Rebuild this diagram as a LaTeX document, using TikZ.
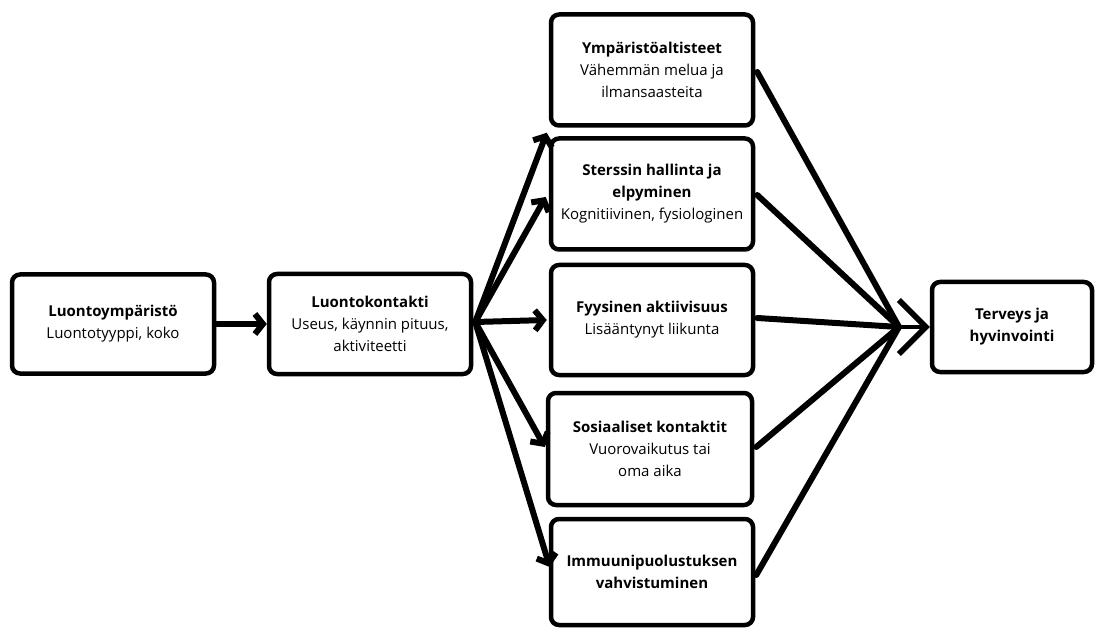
\documentclass[tikz,border=0pt]{standalone}
\usepackage{fontspec}
\setmainfont{Open Sans}
\usetikzlibrary{arrows.meta,calc}
\begin{document}
\begin{tikzpicture}[x=1pt,y=-1pt,
  box/.style={draw=black, line width=4.5pt, rounded corners=8pt, fill=white,
    align=center, inner sep=2pt, font=\fontsize{15}{22}\selectfont},
  conn/.style={line width=6pt, line cap=round, line join=round},
  arr/.style={conn, -{Straight Barb[length=8pt,width=20pt]}},
  bigarr/.style={line width=4.5pt, line cap=round, -{Straight Barb[length=27pt,width=54pt,line width=5.5pt]}}
]
\useasboundingbox (0,0) rectangle (1095,628);
\fill[white] (0,0) rectangle (1095,628);

\node[box, minimum width=202pt, minimum height=99pt] (le) at (113,324)
  {\textbf{Luontoympäristö}\\Luontotyyppi, koko};
\node[box, minimum width=202pt, minimum height=100pt] (lk) at (370,324)
  {\textbf{Luontokontakti}\\Useus, käynnin pituus,\\aktiviteetti};
\node[box, minimum width=202pt, minimum height=111pt] (ymp) at (652,70)
  {\textbf{Ympäristöaltisteet}\\Vähemmän melua ja\\ilmansaasteita};
\node[box, minimum width=202pt, minimum height=111pt] (ste) at (652,194)
  {\textbf{Sterssin hallinta ja}\\\textbf{elpyminen}\\Kognitiivinen, fysiologinen};
\node[box, minimum width=202pt, minimum height=110pt] (fyy) at (652,320)
  {\textbf{Fyysinen aktiivisuus}\\Lisääntynyt liikunta};
\node[box, minimum width=204pt, minimum height=112pt] (sos) at (650,449)
  {\textbf{Sosiaaliset kontaktit}\\Vuorovaikutus tai\\oma aika};
\node[box, minimum width=202pt, minimum height=106pt] (imm) at (652,572)
  {\textbf{Immuunipuolustuksen}\\\textbf{vahvistuminen}};
\node[box, minimum width=160pt, minimum height=90pt] (ter) at (1012,327)
  {\textbf{Terveys ja}\\\textbf{hyvinvointi}};

\coordinate (hub) at (899,327);
\coordinate (lko) at ($(lk.east)+(2,-2)$);

\draw[arr] (le.east) -- (lk.west);

\draw[arr] (lko) -- ($(ymp.south west)+(-2,5)$);
\draw[arr] (lko) -- ($(ste.west)+(-3,3)$);
\draw[arr] (lko) -- ($(fyy.west)+(-2,0)$);
\draw[arr] (lko) -- ($(sos.west)+(-1,-2)$);
\draw[arr] (lko) -- ($(imm.west)+(1,-5)$);

\draw[conn] ($(ymp.east)+(2,2)$) -- (hub);
\draw[conn] ($(ste.east)+(2,1)$) -- (hub);
\draw[conn] ($(fyy.east)+(2,-2)$) -- (hub);
\draw[conn] ($(sos.east)+(2,-2)$) -- (hub);
\draw[conn] ($(imm.east)+(1,3)$) -- (hub);

\draw[bigarr] (hub) -- (ter.west);
\end{tikzpicture}
\end{document}
